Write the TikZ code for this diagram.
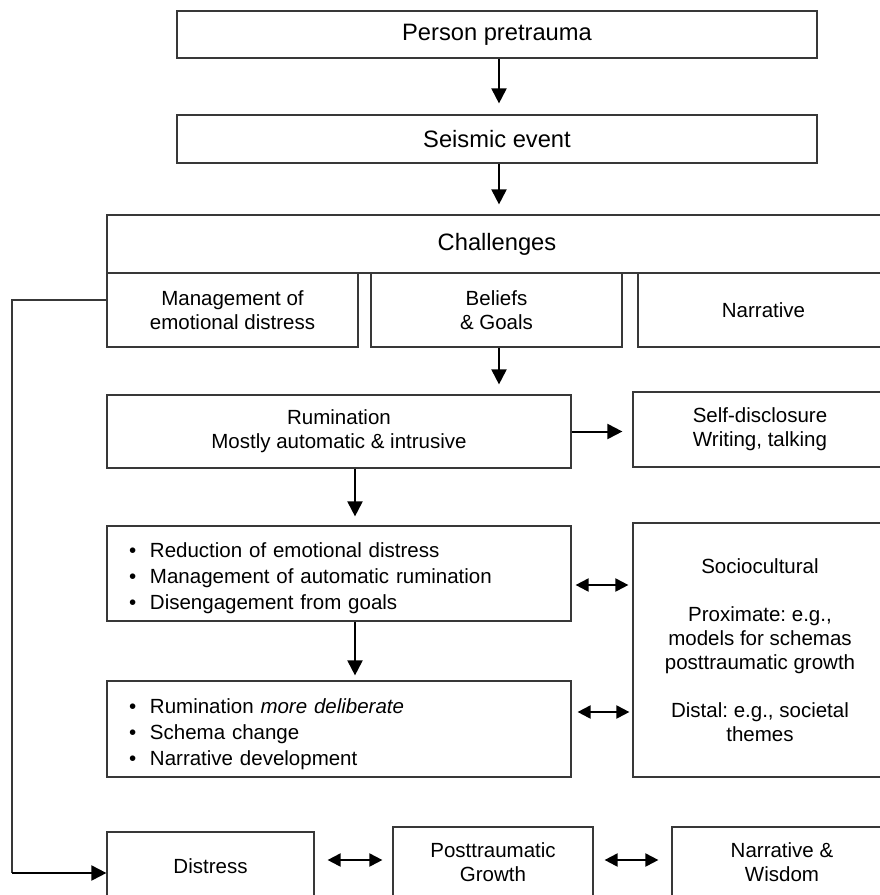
\documentclass[tikz,border=0pt]{standalone}
\usepackage{fontspec}
\setmainfont{Liberation Sans}
\usetikzlibrary{arrows.meta,calc}
\frenchspacing
\newcommand\blt{\makebox[21pt][l]{\textbullet}}
\newcommand\topstrut{\rule{0pt}{25pt}}
\tikzset{
  box/.style={draw=black!78, line width=1.2pt, fill=white, font=\fontsize{20.5}{24}\selectfont, align=center, inner sep=0pt},
  bigbox/.style={box, font=\fontsize{23.7}{27}\selectfont},
  listbox/.style={box, font=\fontsize{20.5}{26}\selectfont, align=left, inner xsep=22pt, text width=420pt},
  arr/.style={line width=2pt, -{Triangle[length=15pt,width=15pt]}},
  dbl/.style={line width=2pt, {Triangle[length=13pt,width=13pt]}-{Triangle[length=13pt,width=13pt]}},
  conn/.style={draw=black!78, line width=1.2pt}
}
\begin{document}
\begin{tikzpicture}[x=1pt,y=-1pt]
\clip (0,0) rectangle (880,895);
\fill[white] (0,0) rectangle (880,895);
% top chain
\node[bigbox, minimum width=640pt, minimum height=47pt] (pre) at (497,34.5) {Person pretrauma};
\node[bigbox, minimum width=640pt, minimum height=48pt] (seis) at (497,139) {Seismic event};
\node[bigbox, minimum width=780pt, minimum height=58pt] (chal) at (497,244) {Challenges};
\node[box, minimum width=251pt, minimum height=74pt] (mgmt) at (232.5,310) {Management of\\emotional distress};
\node[box, minimum width=251pt, minimum height=74pt] (beli) at (496.5,310) {Beliefs\\\& Goals};
\node[box, minimum width=251pt, minimum height=74pt] (narr) at (763.5,310) {Narrative};
% rumination
\node[box, minimum width=464pt, minimum height=73pt] (rum) at (339,431.5) {Rumination\\Mostly automatic \& intrusive};
\node[box, minimum width=254pt, minimum height=75pt] (self) at (760,429.5) {Self-disclosure\\Writing, talking};
% lists
\node[listbox, minimum height=95pt] (red) at (339,573.5) {\topstrut\blt Reduction of emotional distress\\\blt Management of automatic rumination\\\blt Disengagement from goals};
\node[listbox, minimum height=96pt] (deli) at (339,729) {\topstrut\blt Rumination \textit{more deliberate}\\\blt Schema change\\\blt Narrative development};
\node[box, minimum width=254pt, minimum height=254pt] (soc) at (760,650) {Sociocultural\\[24pt]Proximate: e.g.,\\models for schemas\\posttraumatic growth\\[24pt]Distal: e.g., societal\\themes};
% bottom
\node[box, minimum width=207pt, minimum height=68pt] (dist) at (210.5,866) {Distress};
\node[box, minimum width=200pt, minimum height=71pt] (ptg) at (493,862.5) {Posttraumatic\\Growth};
\node[box, minimum width=220pt, minimum height=71pt] (nw) at (782,862.5) {Narrative \&\\Wisdom};
% vertical arrows
\coordinate (t1) at ([xshift=2pt]pre.south);
\draw[arr, shorten >=11pt] (t1) -- (t1 |- seis.north);
\coordinate (t2) at ([xshift=2pt]seis.south);
\draw[arr, shorten >=10pt] (t2) -- (t2 |- chal.north);
\coordinate (t3) at ([xshift=2.5pt]beli.south);
\draw[arr, shorten >=10pt] (t3) -- (t3 |- rum.north);
\coordinate (r1) at ([xshift=16pt]rum.south);
\draw[arr, shorten >=9pt] (r1) -- (r1 |- red.north);
\coordinate (r2) at ([xshift=16pt]red.south);
\draw[arr, shorten >=5pt] (r2) -- (r2 |- deli.north);
% horizontal arrows
\draw[arr, shorten >=10pt] (rum.east) -- (rum.east -| self.west);
\coordinate (d1) at ([yshift=-11.5pt]red.east);
\draw[dbl, shorten <=4pt, shorten >=4pt] (d1) -- (d1 -| soc.west);
\coordinate (d2) at ([yshift=17pt]deli.east);
\draw[dbl, shorten <=6pt, shorten >=3pt] (d2) -- (d2 -| soc.west);
\coordinate (d3) at ([yshift=6pt]dist.east);
\draw[dbl, shorten <=13pt, shorten >=10pt] (d3) -- (d3 -| ptg.west);
\coordinate (d4) at ([yshift=2.5pt]ptg.east);
\draw[dbl, shorten <=11pt, shorten >=13pt] (d4) -- (d4 -| nw.west);
% feedback connector
\coordinate (bend) at ([yshift=-7pt]dist.west -| 12,0);
\draw[conn] ([yshift=10pt]mgmt.west) -| (bend);
\draw[arr] (bend) -- (bend -| dist.west);
\end{tikzpicture}
\end{document}
